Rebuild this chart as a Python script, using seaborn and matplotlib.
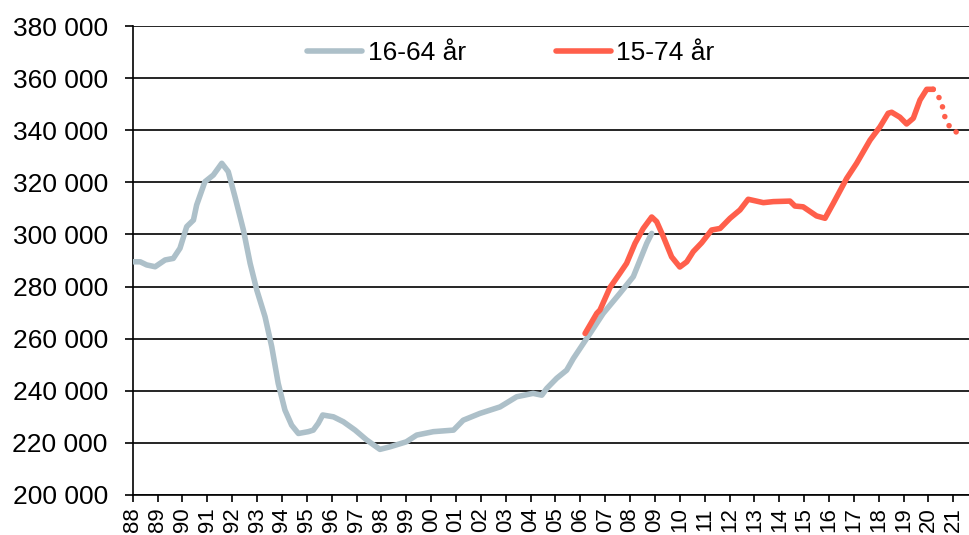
import matplotlib
matplotlib.use("Agg")
import matplotlib.pyplot as plt
import seaborn as sns
import pandas as pd
from matplotlib.ticker import FuncFormatter, MultipleLocator

# ---- data ----
years_1664 = [1988.0, 1988.3, 1988.56, 1988.9, 1989.3, 1989.63, 1989.9, 1990.17, 1990.44,
              1990.57, 1990.9, 1991.24, 1991.58, 1991.84, 1992.11, 1992.45, 1992.72, 1992.99,
              1993.32, 1993.59, 1993.85, 1994.12, 1994.39, 1994.66, 1995.06, 1995.26, 1995.46,
              1995.64, 1996.07, 1996.47, 1996.94, 1997.41, 1997.94, 1998.35, 1999.0, 1999.42,
              2000.09, 2000.9, 2001.29, 2001.96, 2002.77, 2003.44, 2004.1, 2004.45, 2004.65,
              2005.05, 2005.45, 2005.72, 2006.39, 2006.92, 2007.59, 2008.13, 2008.67, 2008.87]
values_1664 = [289500, 289500, 288300, 287600, 290200, 290800, 294700, 303000, 305500,
               311300, 320200, 322800, 327300, 324100, 314500, 301700, 288900, 278600,
               268400, 256900, 242800, 232600, 226800, 223600, 224300, 224900, 227500,
               230700, 230000, 228100, 224900, 221100, 217500, 218500, 220400, 223000,
               224300, 224900, 228700, 231300, 233800, 237700, 239000, 238300, 240900,
               244800, 247900, 252400, 262000, 269700, 277400, 283800, 296600, 300400]

years_1574 = [2006.19, 2006.66, 2006.79, 2007.19, 2007.59, 2007.86, 2008.2, 2008.53, 2008.87,
              2009.07, 2009.34, 2009.67, 2010.0, 2010.28, 2010.54, 2010.88, 2011.28, 2011.62,
              2012.02, 2012.42, 2012.75, 2013.36, 2013.76, 2014.43, 2014.63, 2014.96, 2015.5,
              2015.84, 2016.17, 2016.71, 2017.11, 2017.65, 2018.05, 2018.38, 2018.52, 2018.85,
              2019.12, 2019.39, 2019.66, 2019.93, 2020.19]
values_1574 = [262000, 269700, 271000, 279600, 285100, 288900, 296600, 302300, 306700,
               304900, 299100, 291400, 287500, 289500, 293400, 296800, 301700, 302300,
               306200, 309400, 313500, 312200, 312600, 312800, 310900, 310600, 307100,
               306200, 311900, 321500, 327300, 336200, 341300, 346500, 346900, 345000,
               342400, 344600, 351600, 355700, 355700]

years_1574_fc = [2020.19, 2020.39, 2020.53, 2020.62, 2020.77, 2020.97, 2021.33]
values_1574_fc = [355700, 353100, 350700, 346100, 342600, 339700, 338800]

tick_years = list(range(1988, 2022))
tick_labels = [f"{y % 100:02d}" for y in tick_years]
series_labels = ["16-64 år", "15-74 år"]

GRAY = "#ADC0C9"
RED = "#FF5F4B"
LW = 4.0

sns.set_style("white")
plt.rcParams["font.family"] = ["Liberation Sans", "DejaVu Sans"]
plt.rcParams["text.color"] = "black"
plt.rcParams["xtick.color"] = "black"
plt.rcParams["ytick.color"] = "black"

fig = plt.figure(figsize=(9.69, 5.35), dpi=100)
ax = fig.add_axes([0.137, 0.0748, 0.863, 0.8766])

df_a = pd.DataFrame({"year": years_1664, "value": values_1664})
df_b = pd.DataFrame({"year": years_1574, "value": values_1574})
df_c = pd.DataFrame({"year": years_1574_fc, "value": values_1574_fc})

sns.lineplot(data=df_a, x="year", y="value", ax=ax, color=GRAY, lw=LW,
             label=series_labels[0], sort=False, solid_capstyle="round",
             solid_joinstyle="round", zorder=3)
sns.lineplot(data=df_b, x="year", y="value", ax=ax, color=RED, lw=LW,
             label=series_labels[1], sort=False, solid_capstyle="round",
             solid_joinstyle="round", zorder=4)
sns.lineplot(data=df_c, x="year", y="value", ax=ax, color=RED, lw=LW,
             sort=False, dashes=False, zorder=4)
# make forecast dotted
fc_line = ax.lines[-1]
fc_line.set_dashes((0.01, 1.8))
fc_line.set_dash_capstyle("round")

ax.set_xlim(1988, 2021.63)
ax.set_ylim(200000, 380000)
ax.yaxis.set_major_locator(MultipleLocator(20000))
ax.yaxis.set_major_formatter(FuncFormatter(lambda v, p: f"{int(v):,}".replace(",", " ")))
ax.set_xticks(tick_years)
ax.set_xticklabels(tick_labels, rotation=90, fontsize=16)
ax.tick_params(axis="y", labelsize=19, length=6, width=1.2, pad=12, color="black",
               labelcolor="black", direction="out", left=True)
ax.tick_params(axis="x", length=5, width=1.2, pad=4, color="black", labelcolor="black",
               direction="out", bottom=True)
ax.set_xlabel("")
ax.set_ylabel("")

ax.grid(axis="y", color="black", lw=1.2)
ax.grid(axis="x", visible=False)
ax.set_axisbelow(True)
for s in ["top", "right"]:
    ax.spines[s].set_visible(False)
for s in ["left", "bottom"]:
    ax.spines[s].set_color("black")
    ax.spines[s].set_linewidth(1.2)

leg = ax.legend(loc="center", bbox_to_anchor=(0.452, 0.942), ncol=2, frameon=False,
                fontsize=19, handlelength=2.1, handletextpad=0.2, columnspacing=3.4,
                borderpad=0, borderaxespad=0)
for t in leg.get_texts():
    t.set_color("black")
for h in leg.get_lines():
    h.set_linewidth(LW)
    h.set_solid_capstyle("round")

fig.savefig("out.png", dpi=100)
